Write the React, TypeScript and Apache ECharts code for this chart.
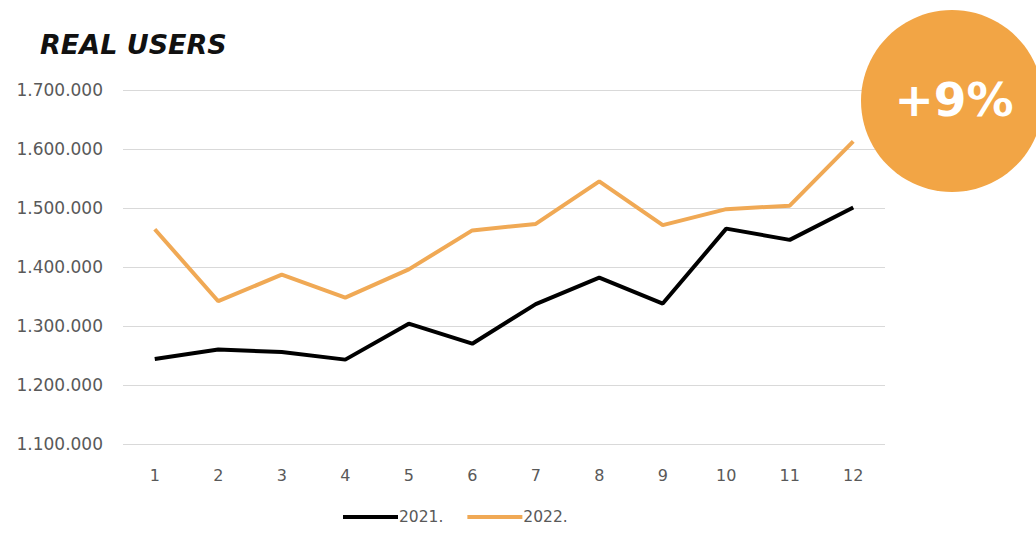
import React, { useEffect, useRef } from "react";
import * as echarts from "echarts";

const categories = ["1", "2", "3", "4", "5", "6", "7", "8", "9", "10", "11", "12"];
const users2021 = [1244000, 1260000, 1256000, 1243000, 1304000, 1270000, 1337000, 1382000, 1338000, 1465000, 1446000, 1501000];
const users2022 = [1464000, 1342000, 1387000, 1348000, 1396000, 1462000, 1473000, 1545000, 1471000, 1498000, 1504000, 1613000];
const seriesNames = ["2021.", "2022."];
const titleText = "REAL USERS";
const badgeText = "+9%";

const fmt = (v: number) => String(v).replace(/\B(?=(\d{3})+(?!\d))/g, ".");

export default function App() {
  const ref = useRef<HTMLDivElement>(null);
  useEffect(() => {
    if (!ref.current) return;
    const chart = echarts.init(ref.current, undefined, { renderer: "svg" });
    chart.setOption({
      animation: false,
      backgroundColor: "#ffffff",
      title: {
        text: titleText,
        left: 35,
        top: 26,
        textStyle: {
          fontFamily: "DejaVu Sans",
          fontSize: 27,
          fontWeight: "bold",
          fontStyle: "italic",
          color: "#111111",
        },
      },
      grid: { left: 123, right: 151, top: 90, bottom: 89 },
      legend: {
        bottom: 3,
        left: 338,
        data: seriesNames,
        icon: "rect",
        itemWidth: 55,
        itemHeight: 4,
        itemGap: 24,
        textStyle: { fontFamily: "DejaVu Sans", fontSize: 15.5, color: "#595959", padding: [0, 0, 0, -4] },
      },
      xAxis: {
        type: "category",
        data: categories,
        boundaryGap: true,
        axisLine: { show: false },
        axisTick: { show: false },
        axisLabel: { fontFamily: "DejaVu Sans", fontSize: 16, color: "#595959", margin: 23 },
      },
      yAxis: {
        type: "value",
        min: 1100000,
        max: 1700000,
        interval: 100000,
        axisLine: { show: false },
        axisTick: { show: false },
        splitLine: { lineStyle: { color: "#d9d9d9", width: 1 } },
        axisLabel: {
          fontFamily: "DejaVu Sans",
          fontSize: 17,
          color: "#595959",
          margin: 20,
          formatter: (v: number) => fmt(v),
        },
      },
      series: [
        {
          name: seriesNames[0],
          type: "line",
          data: users2021,
          symbol: "none",
          lineStyle: { color: "#000000", width: 4 },
          itemStyle: { color: "#000000" },
        },
        {
          name: seriesNames[1],
          type: "line",
          data: users2022,
          symbol: "none",
          lineStyle: { color: "#F0A955", width: 4 },
          itemStyle: { color: "#F0A955" },
        },
      ],
      graphic: [
        {
          type: "circle",
          shape: { cx: 952, cy: 101, r: 91 },
          style: { fill: "#F2A545" },
          z: 100,
        },
        {
          type: "text",
          x: 954,
          y: 99,
          z: 101,
          style: {
            text: badgeText,
            fill: "#ffffff",
            font: "bold 47px 'DejaVu Sans'",
            align: "center",
            verticalAlign: "middle",
          },
        },
      ],
    });
    return () => chart.dispose();
  }, []);
  return (
    <div
      ref={ref}
      style={{ position: "absolute", left: 0, top: 0, width: 1036, height: 533 }}
    />
  );
}
